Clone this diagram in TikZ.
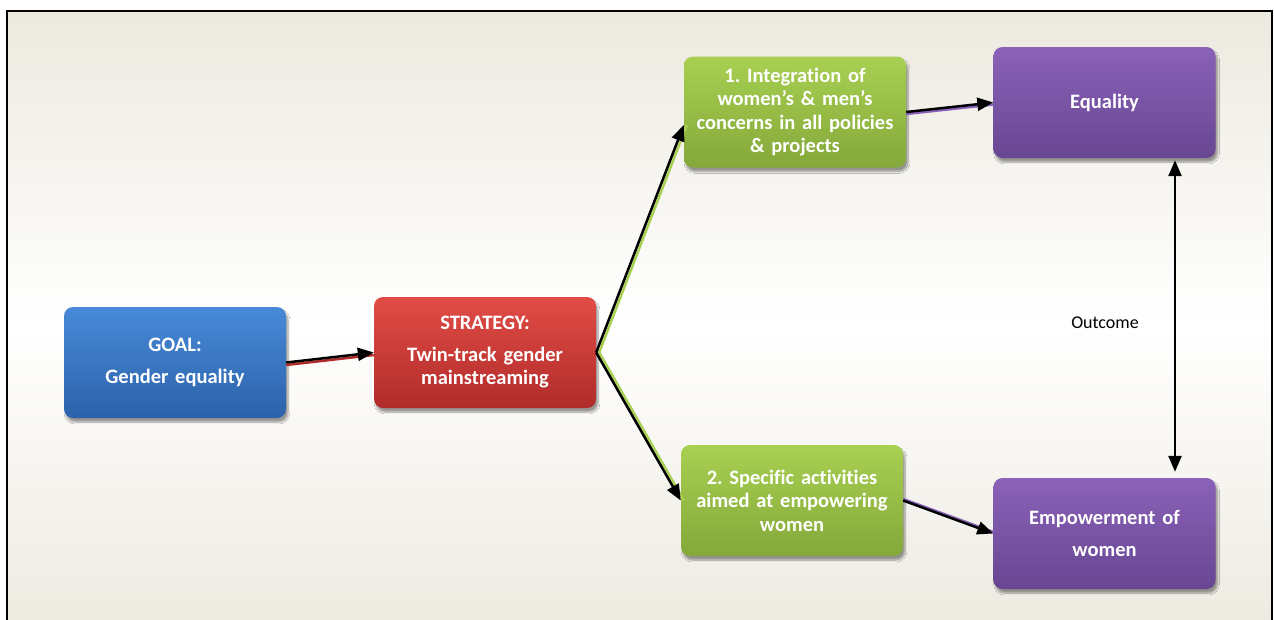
\documentclass[tikz,border=0pt]{standalone}
\usepackage{fontspec}
\setmainfont{Carlito}[RawFeature=-liga, WordSpace=0.7]
\usetikzlibrary{arrows.meta,shadows.blur}

\definecolor{bgbeige}{RGB}{236,233,223}
\definecolor{goaltop}{RGB}{72,138,216}
\definecolor{goalbot}{RGB}{44,98,170}
\definecolor{strattop}{RGB}{226,76,70}
\definecolor{stratbot}{RGB}{176,44,42}
\definecolor{tracktop}{RGB}{168,208,82}
\definecolor{trackbot}{RGB}{132,168,58}
\definecolor{resulttop}{RGB}{138,98,184}
\definecolor{resultbot}{RGB}{104,70,146}

\tikzset{
  box/.style={rounded corners=9pt, minimum width=222pt, minimum height=111pt,
    inner sep=0pt, text width=214pt, align=center, text=white,
    font=\fontsize{20.5}{23.5}\selectfont\bfseries,
    blur shadow={shadow xshift=2pt, shadow yshift=-4pt, shadow blur steps=6, shadow opacity=40}},
  goalbox/.style={box, top color=goaltop, bottom color=goalbot},
  stratbox/.style={box, top color=strattop, bottom color=stratbot},
  trackbox/.style={box, top color=tracktop, bottom color=trackbot},
  resultbox/.style={box, top color=resulttop, bottom color=resultbot},
  link/.style={line width=2.5pt, -{Triangle[length=16pt,width=13pt]}},
  underlay/.style={line width=2.5pt},
}

\begin{document}
\frenchspacing
\begin{tikzpicture}[x=1pt, y=-1pt]
  \useasboundingbox (0,0) rectangle (1274,619);
  % frame with soft background
  \draw[line width=2pt, top color=bgbeige, bottom color=bgbeige, middle color=white]
    (7,11) rectangle (1272,640);

  \node[goalbox] (goal) at (175,362.5) {GOAL:\\[8pt]Gender equality};
  \node[stratbox] (strategy) at (485,352.5) {STRATEGY:\\[8pt]Twin-track gender\\mainstreaming};
  \node[trackbox] (integ) at (795,112) {1. Integration of\\women’s \& men’s\\concerns in all policies\\\& projects};
  \node[trackbox] (specific) at (792,500.5) {2. Specific activities\\aimed at empowering\\women};
  \node[resultbox] (equality) at (1104.5,102.5) {Equality};
  \node[resultbox] (empower) at (1104.5,533.5) {Empowerment of\\[9pt]women};

  % coloured lines under the arrows
  \draw[underlay, stratbot, transform canvas={yshift=-2.5pt}] (goal.east) -- (strategy.west);
  \draw[underlay, tracktop, transform canvas={xshift=3pt}] (strategy.east) -- ([yshift=-13pt]integ.west);
  \draw[underlay, tracktop, transform canvas={xshift=3pt}] (strategy.east) -- (specific.west);
  \draw[underlay, resulttop, transform canvas={yshift=-2pt}] (integ.east) -- (equality.west);
  \draw[underlay, resulttop, transform canvas={yshift=1.5pt}] (specific.east) -- (empower.west);

  \draw[link] (goal.east) -- (strategy.west);
  \draw[link] (strategy.east) -- ([yshift=-13pt]integ.west);
  \draw[link] (strategy.east) -- (specific.west);
  \draw[link] (integ.east) -- (equality.west);
  \draw[link] (specific.east) -- (empower.west);
  \draw[link, {Triangle[length=16pt,width=13pt]}-{Triangle[length=16pt,width=13pt]}]
    ([xshift=70.5pt,yshift=-2pt]equality.south) -- ([xshift=70.5pt,yshift=6pt]empower.north);

  \node[font=\fontsize{18}{20}\selectfont] (outcome) at (1105,323) {Outcome};
\end{tikzpicture}
\end{document}
